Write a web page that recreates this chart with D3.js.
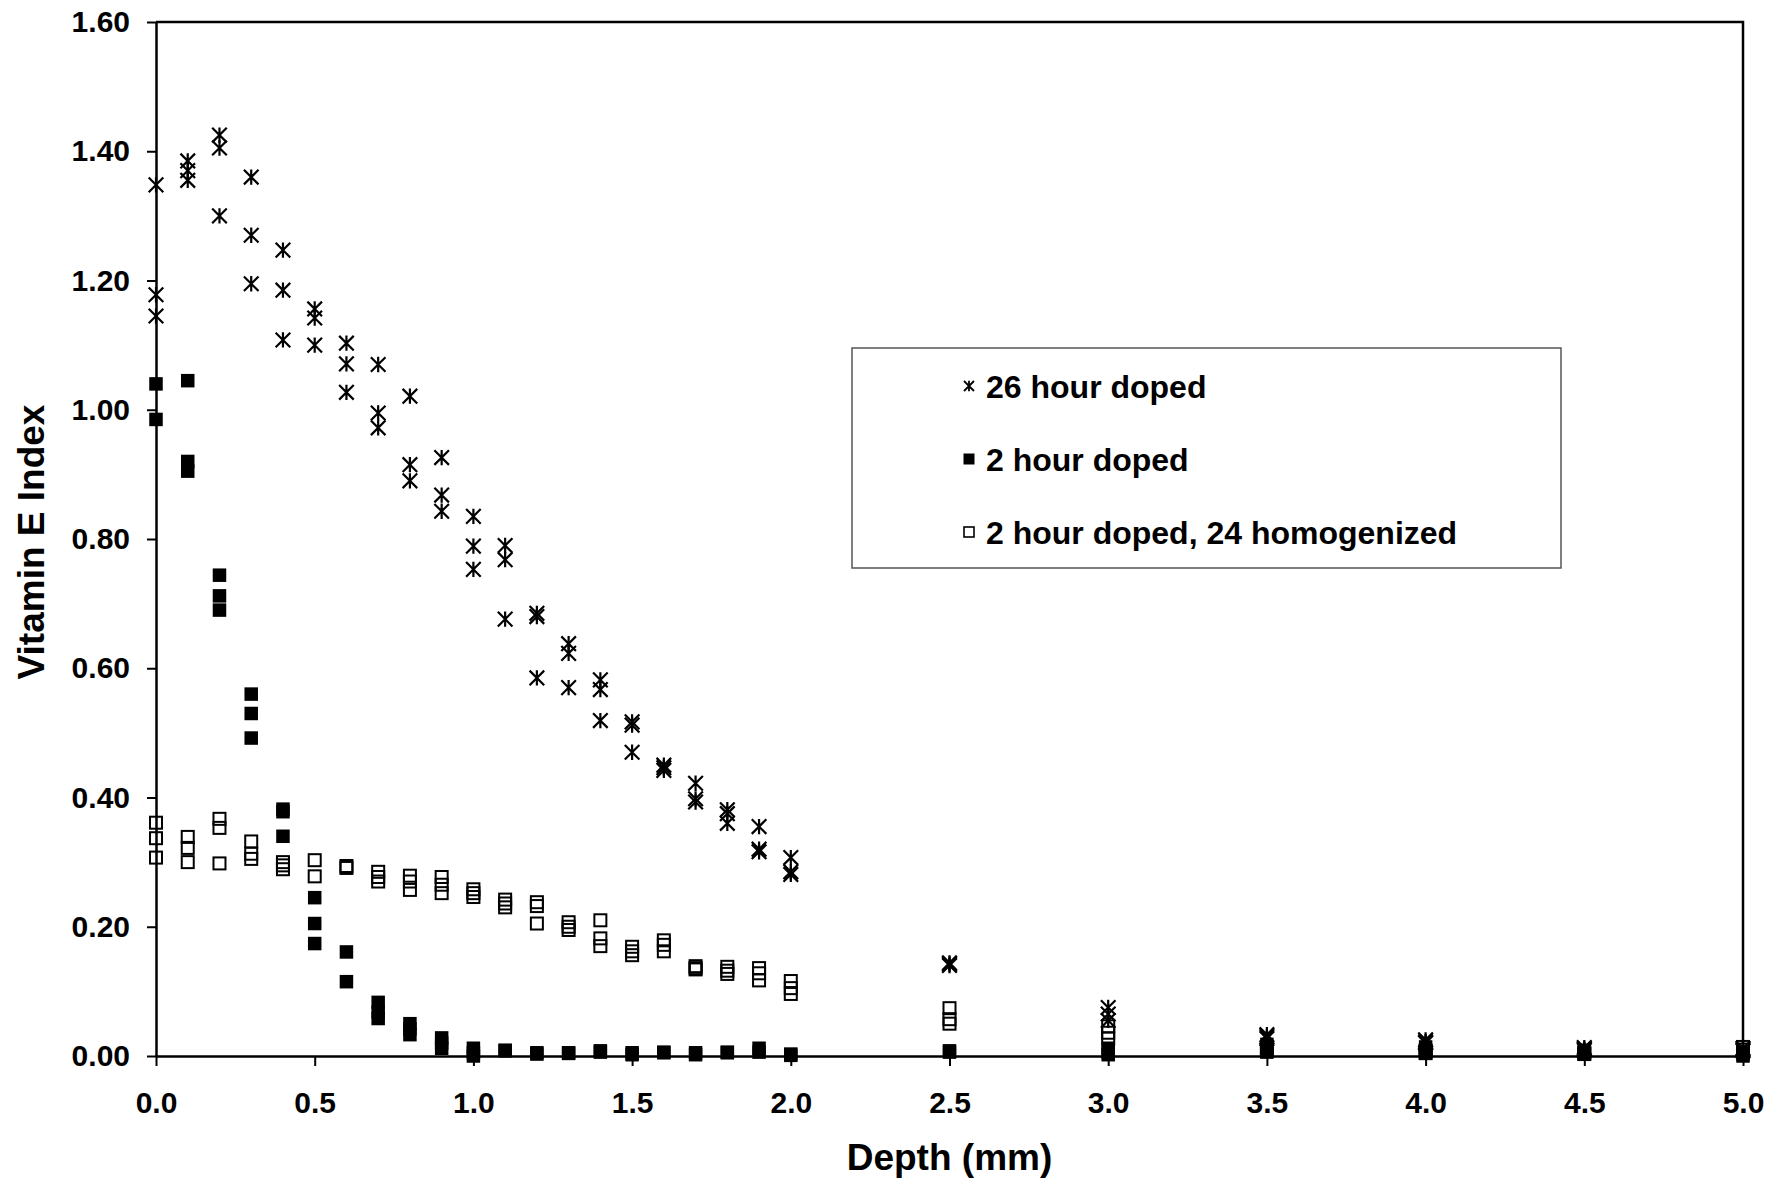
<!DOCTYPE html>
<html>
<head>
<meta charset="utf-8">
<script src="https://cdn.jsdelivr.net/npm/d3@7/dist/d3.min.js"></script>
<style>
  html, body { margin: 0; padding: 0; background: #ffffff; }
  svg { display: block; }
  text { font-family: "Liberation Sans", Arial, sans-serif; font-weight: bold; fill: #000; }
</style>
</head>
<body>
<svg id="chart" width="1771" height="1184"></svg>
<script>
// ---------------- DATA ----------------
const depths = [0.0, 0.1, 0.2, 0.3, 0.4, 0.5, 0.6, 0.7, 0.8, 0.9, 1.0, 1.1, 1.2, 1.3, 1.4,
                1.5, 1.6, 1.7, 1.8, 1.9, 2.0, 2.5, 3.0, 3.5, 4.0, 4.5, 5.0];

// 26 hour doped (replicates per depth)
const doped26 = [
  [1.348, 1.178, 1.145], [1.385, 1.370, 1.355], [1.425, 1.405, 1.300], [1.360, 1.270, 1.195],
  [1.247, 1.185, 1.108], [1.156, 1.142, 1.100], [1.103, 1.071, 1.027], [1.070, 0.995, 0.972],
  [1.021, 0.915, 0.890], [0.926, 0.868, 0.843], [0.835, 0.789, 0.753], [0.790, 0.768, 0.676],
  [0.685, 0.680, 0.585], [0.638, 0.623, 0.570], [0.582, 0.567, 0.519], [0.517, 0.512, 0.470],
  [0.450, 0.446, 0.442], [0.422, 0.398, 0.393], [0.381, 0.375, 0.360], [0.355, 0.320, 0.316],
  [0.307, 0.285, 0.281], [0.144, 0.142, 0.140], [0.075, 0.065, 0.055], [0.033, 0.030, 0.027],
  [0.025, 0.022, 0.020], [0.013, 0.011, 0.009], [0.012, 0.010, 0.008]
];

// 2 hour doped
const doped2 = [
  [1.040, 0.985], [1.045, 0.920, 0.905], [0.744, 0.712, 0.690], [0.560, 0.530, 0.492],
  [0.382, 0.378, 0.340], [0.245, 0.205, 0.174], [0.161, 0.115], [0.083, 0.068, 0.058],
  [0.050, 0.042, 0.033], [0.028, 0.020, 0.012], [0.012, 0.005, 0.000], [0.009, 0.008],
  [0.005, 0.003], [0.005, 0.004], [0.008, 0.006], [0.005, 0.002],
  [0.006, 0.005], [0.005, 0.002], [0.006, 0.005], [0.012, 0.006],
  [0.003, 0.001], [0.008, 0.006], [0.012, 0.006, 0.002], [0.018, 0.012, 0.006],
  [0.014, 0.009, 0.004], [0.009, 0.006, 0.003], [0.006, 0.003, 0.000]
];

// 2 hour doped, 24 homogenized
const homog24 = [
  [0.361, 0.337, 0.307], [0.339, 0.322, 0.300], [0.367, 0.353, 0.298], [0.332, 0.313, 0.305],
  [0.300, 0.295, 0.289], [0.303, 0.278], [0.294, 0.291], [0.285, 0.277, 0.270],
  [0.279, 0.270, 0.257], [0.277, 0.265, 0.252], [0.258, 0.252, 0.246], [0.242, 0.236, 0.230],
  [0.238, 0.232, 0.205], [0.207, 0.200, 0.195], [0.210, 0.182, 0.170], [0.169, 0.162, 0.156],
  [0.179, 0.172, 0.162], [0.139, 0.136, 0.134], [0.138, 0.132, 0.127], [0.136, 0.128, 0.117],
  [0.116, 0.105, 0.096], [0.074, 0.057, 0.050], [0.046, 0.036, 0.027], [0.012, 0.008],
  [0.008, 0.005], [0.005, 0.003], [0.014, 0.010]
];

const seriesNames = ["26 hour doped", "2 hour doped", "2 hour doped, 24 homogenized"];
const xTicks = [0.0, 0.5, 1.0, 1.5, 2.0, 2.5, 3.0, 3.5, 4.0, 4.5, 5.0];
const yTicks = [0.0, 0.2, 0.4, 0.6, 0.8, 1.0, 1.2, 1.4, 1.6];
const xTitle = "Depth (mm)";
const yTitle = "Vitamin E Index";

// ---------------- LAYOUT ----------------
const svg = d3.select("#chart");
const L = 156, R = 1743, T = 22, B = 1056;

const x = d3.scaleLinear().domain([0, 5]).range([L, R]);
const y = d3.scaleLinear().domain([0, 1.6]).range([B, T]);

function flatten(arr) {
  const out = [];
  arr.forEach((vals, i) => vals.forEach(v => out.push({ d: depths[i], v })));
  return out;
}

// plot frame (top & right)
svg.append("path")
  .attr("d", `M${L},${T}H${R}V${B}`)
  .attr("fill", "none").attr("stroke", "#000").attr("stroke-width", 2.5);

// axes
const xAxis = d3.axisBottom(x).tickValues(xTicks).tickFormat(d3.format(".1f"))
  .tickSizeInner(10).tickSizeOuter(0).tickPadding(26);
const yAxis = d3.axisLeft(y).tickValues(yTicks).tickFormat(d3.format(".2f"))
  .tickSizeInner(9).tickSizeOuter(0).tickPadding(17);

const gx = svg.append("g").attr("transform", `translate(0,${B})`).call(xAxis);
const gy = svg.append("g").attr("transform", `translate(${L},0)`).call(yAxis);
[gx, gy].forEach(g => {
  g.select(".domain").attr("stroke", "#000").attr("stroke-width", 2.5);
  g.selectAll(".tick line").attr("stroke", "#000").attr("stroke-width", 2);
  g.selectAll(".tick text").attr("fill", "#000")
    .style("font-family", "'Liberation Sans', Arial, sans-serif")
    .style("font-weight", "bold").style("font-size", "30px");
});

// axis titles
svg.append("text").attr("x", (L + R) / 2).attr("y", 1170)
  .attr("text-anchor", "middle").style("font-size", "37px").text(xTitle);
svg.append("text").attr("transform", `translate(44,${(T + B) / 2 + 3}) rotate(-90)`)
  .attr("text-anchor", "middle").style("font-size", "37px").text(yTitle);

// ---------------- MARKERS ----------------
function starPath(s) {
  return `M${-s},${-s}L${s},${s}M${-s},${s}L${s},${-s}M0,${-s * 1.05}L0,${s * 1.05}`;
}
const plot = svg.append("g");

// 26 hour doped - asterisks
plot.append("g").selectAll("path").data(flatten(doped26)).join("path")
  .attr("transform", d => `translate(${x(d.d)},${y(d.v)})`)
  .attr("d", starPath(7.3))
  .attr("fill", "none").attr("stroke", "#000").attr("stroke-width", 2.2);

// 2 hour doped - filled squares
const fs = 13.5;
plot.append("g").selectAll("rect").data(flatten(doped2)).join("rect")
  .attr("x", d => x(d.d) - fs / 2).attr("y", d => y(d.v) - fs / 2)
  .attr("width", fs).attr("height", fs).attr("fill", "#000");

// homogenized - hollow squares
const hs = 12;
plot.append("g").selectAll("rect").data(flatten(homog24)).join("rect")
  .attr("x", d => x(d.d) - hs / 2).attr("y", d => y(d.v) - hs / 2)
  .attr("width", hs).attr("height", hs)
  .attr("fill", "none").attr("stroke", "#000").attr("stroke-width", 2);

// ---------------- LEGEND ----------------
const lg = svg.append("g");
lg.append("rect").attr("x", 852).attr("y", 348).attr("width", 709).attr("height", 220)
  .attr("fill", "#fff").attr("stroke", "#555").attr("stroke-width", 1.5);
const rowsY = [386, 459, 532];
const mx = 969, tx = 986;
lg.append("path").attr("transform", `translate(${mx},${rowsY[0]})`)
  .attr("d", starPath(5)).attr("fill", "none").attr("stroke", "#000").attr("stroke-width", 1.8);
lg.append("rect").attr("x", mx - 5.5).attr("y", rowsY[1] - 5.5).attr("width", 11).attr("height", 11).attr("fill", "#000");
lg.append("rect").attr("x", mx - 5).attr("y", rowsY[2] - 5).attr("width", 10).attr("height", 10)
  .attr("fill", "#fff").attr("stroke", "#000").attr("stroke-width", 1.6);
seriesNames.forEach((n, i) => {
  lg.append("text").attr("x", tx).attr("y", rowsY[i]).attr("dy", "0.36em")
    .style("font-size", "32px").text(n);
});
</script>
</body>
</html>
